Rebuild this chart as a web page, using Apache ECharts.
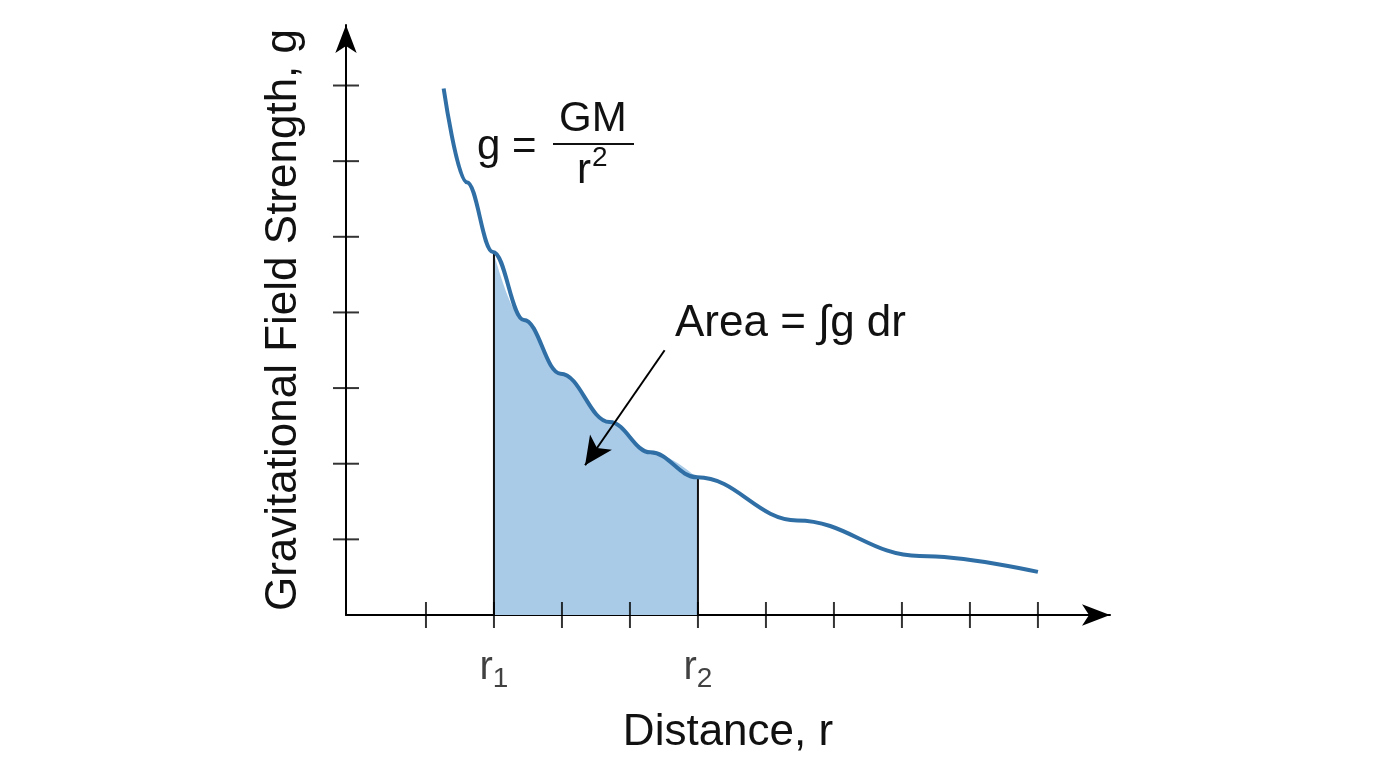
<!DOCTYPE html>
<html><head><meta charset="utf-8">
<script src="https://cdn.jsdelivr.net/npm/echarts@6/dist/echarts.min.js"></script>
<style>html,body{margin:0;background:#fff}#c{width:1376px;height:768px}</style>
</head><body><div id="c"></div>
<script>
const curveX = [1.26, 1.6, 1.985, 2.44, 2.98, 3.70, 4.3, 4.99, 6.46, 8.26, 10];
const curveY = [6.96, 5.72, 4.80, 3.90, 3.19, 2.55, 2.15, 1.82, 1.25, 0.78, 0.57];
const fillX = [2, 2.44, 2.98, 3.70, 4.3, 5];
const fillY = [4.78, 3.90, 3.19, 2.55, 2.15, 1.80];
const xTicks = [1,2,3,4,5,6,7,8,9,10];
const yTicks = [1,2,3,4,5,6,7];
const rLabels = [[2,'r','1'],[5,'r','2']];
const arrowFrom = [4.51, 3.50], arrowTo = [3.34, 1.98];
const FONT = 'Liberation Sans, Arial, sans-serif';
const chart = echarts.init(document.getElementById('c'));
chart.setOption({
  animation:false,
  grid:{left:346, right:1376-1110, top:25, bottom:768-615},
  xAxis:{type:'value', min:-0.176, max:11.06, splitLine:{show:false}, axisTick:{show:false}, axisLabel:{show:false},
    axisLine:{onZero:false, lineStyle:{color:'#000',width:2}, symbol:['none','arrow'], symbolSize:[16,28]},
    name:'Distance, r', nameLocation:'middle', nameGap:96, nameTextStyle:{fontFamily:FONT,fontSize:44,color:'#111'}},
  yAxis:{type:'value', min:0, max:7.8, splitLine:{show:false}, axisTick:{show:false}, axisLabel:{show:false},
    axisLine:{onZero:false, lineStyle:{color:'#000',width:2}, symbol:['none','arrow'], symbolSize:[16,28]},
    name:'Gravitational Field Strength, g', nameLocation:'middle', nameGap:40, nameTextStyle:{fontFamily:FONT,fontSize:44,color:'#111'}},
  series:[
    {type:'line', data:fillX.map((x,i)=>[x,fillY[i]]), smooth:0.4, smoothMonotone:'x', symbol:'none', lineStyle:{width:0}, areaStyle:{color:'#a9cbe8',opacity:1}, z:1},
    {type:'line', data:[[2,0],[2,fillY[0]]], symbol:'none', lineStyle:{color:'#111',width:2}, z:2},
    {type:'line', data:[[5,0],[5,fillY[fillY.length-1]]], symbol:'none', lineStyle:{color:'#111',width:2}, z:2},
    {type:'line', data:curveX.map((x,i)=>[x,curveY[i]]), smooth:0.4, smoothMonotone:'x', symbol:'none', lineStyle:{color:'#2f6fa6',width:4}, z:3,
      markLine:{silent:true, symbol:['none','arrow'], symbolSize:[20,28], lineStyle:{color:'#000',width:2,type:'solid'}, label:{show:false},
        data:[[{coord:arrowFrom},{coord:arrowTo}]]}},
    {type:'scatter', data:xTicks.map(x=>[x,0]), symbol:'rect', symbolSize:[2,26], itemStyle:{color:'#000'}, z:4},
    {type:'scatter', data:yTicks.map(y=>[-0.176,y]), symbol:'rect', symbolSize:[26,2], itemStyle:{color:'#000'}, z:4},
    {type:'scatter', data:rLabels.map(r=>[r[0],0]), symbolSize:0, z:5,
      label:{show:true, position:'bottom', distance:28, color:'#111', formatter:p=>'{a|'+rLabels[p.dataIndex][1]+'}{b|'+rLabels[p.dataIndex][2]+'}',
        rich:{a:{fontFamily:FONT,fontSize:40,color:'#111'}, b:{fontFamily:FONT,fontSize:28,color:'#111',padding:[22,0,0,0]}}}}
  ],
  graphic:[
    {type:'text', left:477, top:126, style:{text:'g =', font:'42px '+FONT, fill:'#111'}},
    {type:'text', left:559, top:98, style:{text:'GM', font:'42px '+FONT, fill:'#111'}},
    {type:'line', shape:{x1:553,y1:144,x2:634,y2:144}, style:{stroke:'#111',lineWidth:2}},
    {type:'text', left:577, top:150, style:{text:'r', font:'42px '+FONT, fill:'#111'}},
    {type:'text', left:592, top:144, style:{text:'2', font:'28px '+FONT, fill:'#111'}},
    {type:'text', left:675, top:302, style:{text:'Area = ∫g dr', font:'44px '+FONT, fill:'#111'}}
  ]
});
</script></body></html>
